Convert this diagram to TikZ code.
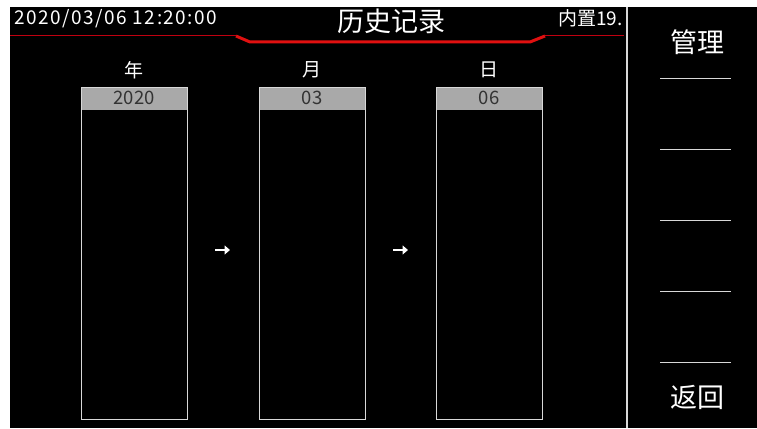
\documentclass[tikz,border=0pt]{standalone}
\usepackage{fontspec}
\usetikzlibrary{arrows.meta}
\setmainfont{Noto Sans CJK SC}
\newfontfamily\datefont[LetterSpace=8]{Noto Sans CJK SC}
\definecolor{barg}{HTML}{A9A9A9}
\definecolor{redl}{HTML}{E01010}
\definecolor{redd}{HTML}{C00010}
\definecolor{linec}{HTML}{D8D8D8}
\begin{document}
\begin{tikzpicture}[x=1pt,y=-1pt,
  txt/.style={text=white,inner sep=0pt,anchor=center},
  colbox/.style={draw=linec,line width=1pt},
  sep/.style={draw=linec,line width=1pt},
  garrow/.style={draw=white,line width=2.6pt,-{Triangle[length=5.5pt,width=9pt]}}]
\useasboundingbox (0,0) rectangle (757,428);
\fill[white] (0,0) rectangle (757,428);
\fill[black] (10,7) rectangle (757,428);
% divider
\fill[linec] (625.5,7) rectangle (628,428);
% red header line
\draw[redd,line width=1pt] (10,36) -- (236,36);
\draw[redl,line width=3pt] (236,36) -- (250,42) -- (530,42) -- (545,36);
\draw[redd,line width=1pt] (545,36) -- (624,36);
% header texts
\node[txt,anchor=west,font=\datefont\fontsize{19}{19}\selectfont] (dt) at (14,19) {2020/03/06 12:20:00};
\node[txt,font=\fontsize{27}{27}\selectfont] (title) at (391,21) {历史记录};
\node[txt,anchor=east,font=\fontsize{19}{19}\selectfont] (mem) at (623,18) {内置19.};
% right panel
\node[txt,font=\fontsize{27}{27}\selectfont] (mgr) at (697,42) {管理};
\foreach \yy/\nm in {78/s1,149/s2,220/s3,291/s4,362/s5}
  \draw[sep] (660,\yy) -- (731,\yy);
\node[txt,font=\fontsize{27}{27}\selectfont] (back) at (697,397) {返回};
% columns
\foreach \xa/\xb/\lab/\val/\nm in {81/187/年/2020/c1,259/365/月/03/c2,436/542/日/06/c3}{
  \fill[barg] (\xa,87) rectangle (\xb,110);
  \draw[colbox] (\xa,87) rectangle (\xb,419);
  \node[txt,font=\fontsize{19}{19}\selectfont] (\nm lab) at ({(\xa+\xb)/2},70) {\lab};
  \node[txt,text=black!80,font=\fontsize{18.5}{18.5}\selectfont] (\nm val) at ({(\xa+\xb)/2},98) {\val};
}
\coordinate (a1s) at (215,250); \coordinate (a1e) at (230,250);
\coordinate (a2s) at (393,250); \coordinate (a2e) at (408,250);
\draw[garrow] (a1s) -- (a1e);
\draw[garrow] (a2s) -- (a2e);
\end{tikzpicture}
\end{document}
